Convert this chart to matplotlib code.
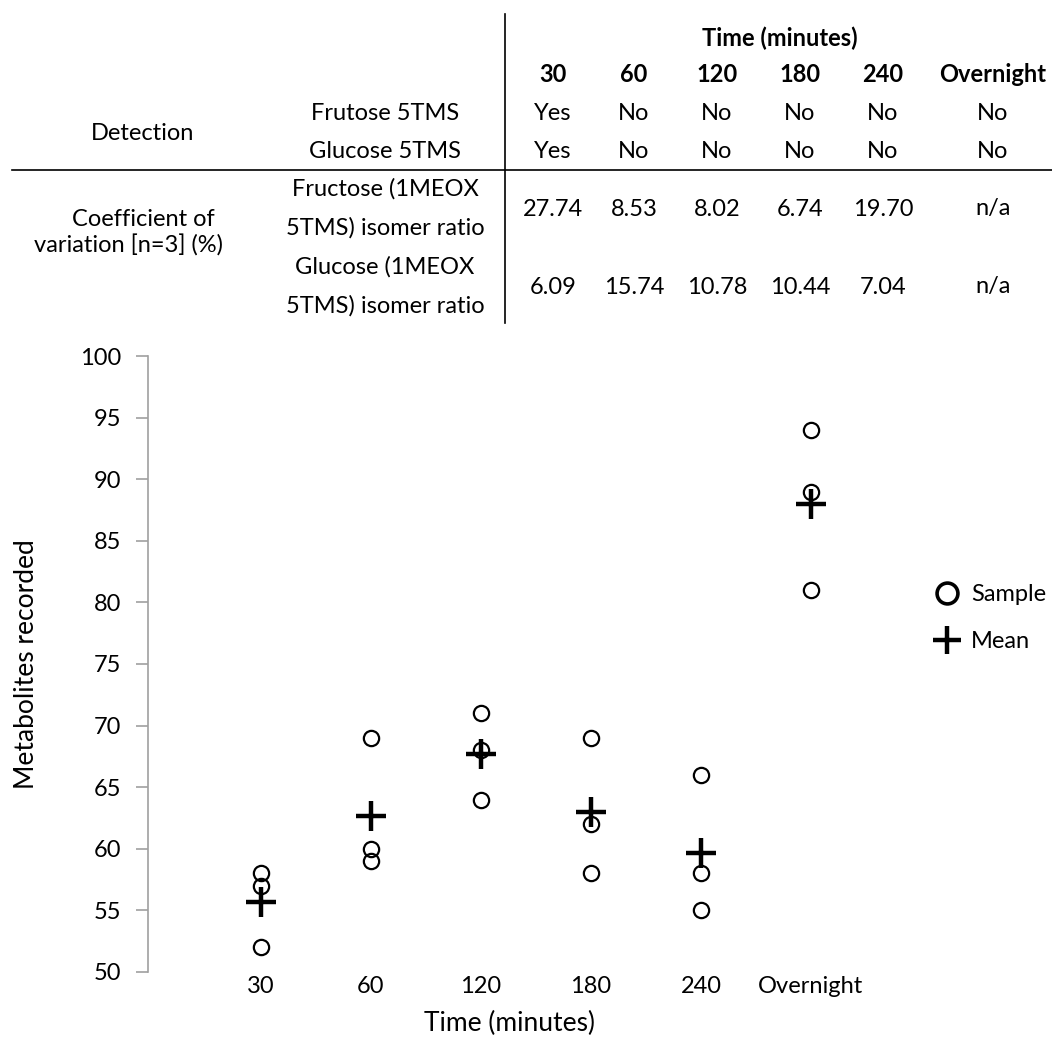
import matplotlib
matplotlib.use("Agg")
import matplotlib.pyplot as plt
from matplotlib.lines import Line2D

plt.rcParams['font.family'] = ['Lato', 'DejaVu Sans']

# time points and per-sample metabolite counts (n=3)
times = ["30", "60", "120", "180", "240", "Overnight"]
samples = [
    [58, 57, 52],
    [69, 60, 59],
    [71, 68, 64],
    [69, 62, 58],
    [66, 58, 55],
    [94, 89, 81],
]
means = [sum(s) / len(s) for s in samples]

# table contents
detect_rows = ["Frutose 5TMS", "Glucose 5TMS"]
detect_vals = [
    ["Yes", "No", "No", "No", "No", "No"],
    ["Yes", "No", "No", "No", "No", "No"],
]
cv_rows = [["Fructose (1MEOX", "5TMS) isomer ratio"],
           ["Glucose (1MEOX", "5TMS) isomer ratio"]]
cv_vals = [
    ["27.74", "8.53", "8.02", "6.74", "19.70", "n/a"],
    ["6.09", "15.74", "10.78", "10.44", "7.04", "n/a"],
]

W, H = 1052, 1048
fig = plt.figure(figsize=(W / 100, H / 100), dpi=100)

# ---- table on top, laid out in pixel units
tab = fig.add_axes([0, 0, 1, 1])
tab.set_xlim(0, W)
tab.set_ylim(H, 0)
tab.axis("off")

fs = 17
col_x = [553, 634, 717, 800, 883, 993]
tab.plot([505, 505], [14, 323], color="black", lw=1.2)
tab.plot([12, W], [170, 170], color="black", lw=1.2)

tab.text(780, 38, "Time (minutes)", ha="center", va="center", fontsize=fs, fontweight="bold")
for x, t in zip(col_x, times):
    tab.text(x, 74, t, ha="center", va="center", fontsize=fs, fontweight="bold")

tab.text(143, 133, "Detection", ha="center", va="center", fontsize=fs)
for y, name, vals in zip([113, 152], detect_rows, detect_vals):
    tab.text(385, y, name, ha="center", va="center", fontsize=fs)
    for x, v in zip(col_x, vals):
        tab.text(x, y, v, ha="center", va="center", fontsize=fs)

tab.text(143, 220, "Coefficient of", ha="center", va="center", fontsize=fs)
tab.text(128, 246, "variation [n=3] (%)", ha="center", va="center", fontsize=fs)
for y, name, vals in zip([209, 287], cv_rows, cv_vals):
    tab.text(385, y - 20, name[0], ha="center", va="center", fontsize=fs)
    tab.text(385, y + 19, name[1], ha="center", va="center", fontsize=fs)
    for x, v in zip(col_x, vals):
        tab.text(x, y, v, ha="center", va="center", fontsize=fs)

# ---- scatter plot
ax = fig.add_axes([148 / W, 1 - 972 / H, (870 - 148) / W, (972 - 356) / H])
for i, s in enumerate(samples):
    ax.plot([i] * len(s), s, "o", ms=11, mfc="none", mec="black", mew=1.6, ls="none")
ax.plot(range(len(times)), means, "+", ms=21, mew=3.2, color="black", ls="none")

ax.set_ylim(50, 100)
ax.set_xlim(-1.027, (870 - 261) / 110)
ax.set_yticks(range(50, 101, 5))
ax.set_xticks(range(len(times)))
ax.set_xticklabels(times)
for sp in ["top", "right", "bottom"]:
    ax.spines[sp].set_visible(False)
ax.spines["left"].set_color("#a0a0a0")
ax.spines["left"].set_linewidth(1.2)
ax.tick_params(axis="y", length=9, width=1.2, color="#a0a0a0", labelsize=fs, pad=10)
ax.tick_params(axis="x", length=0, labelsize=fs, pad=3)
ax.set_ylabel("Metabolites recorded", fontsize=19, labelpad=30)
ax.set_xlabel("Time (minutes)", fontsize=19, labelpad=10)
ax.patch.set_visible(False)

handles = [
    Line2D([], [], marker="o", ms=15, mfc="none", mec="black", mew=2.6, ls="none"),
    Line2D([], [], marker="+", ms=20, mew=3.2, color="black", ls="none"),
]
fig.legend(handles, ["Sample", "Mean"], loc="center left",
           bbox_to_anchor=(912 / W, 1 - 618 / H), frameon=False,
           fontsize=fs, handletextpad=0.4, labelspacing=1.1, handlelength=1.2)

fig.savefig("out.png", dpi=100)
